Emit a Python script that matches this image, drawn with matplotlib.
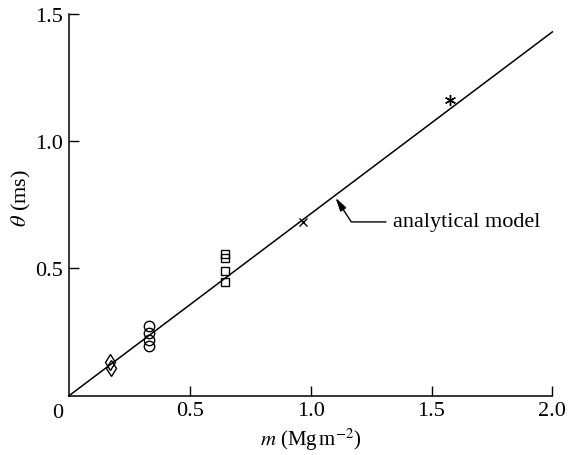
import matplotlib.pyplot as plt
import numpy as np

plt.rcParams['font.family'] = ['Liberation Serif', 'DejaVu Serif']
plt.rcParams['mathtext.fontset'] = 'stix'

# measured data, grouped by marker
diamond_m = [0.17, 0.175]
diamond_t = [0.131, 0.110]
circle_m = [0.33, 0.33, 0.33, 0.33]
circle_t = [0.275, 0.246, 0.219, 0.196]
square_m = [0.647, 0.647, 0.647, 0.647]
square_t = [0.557, 0.540, 0.491, 0.448]
cross_m = [0.968]
cross_t = [0.682]
star_m = [1.575]
star_t = [1.161]

# analytical model: theta = k * m
model_slope = 0.715
model_m = [0.0, 2.0]

fig = plt.figure(figsize=(5.68, 4.56), dpi=100)
ax = fig.add_axes([0.1215, 0.13, 0.851, 0.837])

model_t = [model_slope * v for v in model_m]
ax.plot(model_m, model_t, color='black', lw=1.1, clip_on=False)

ax.plot(diamond_m, diamond_t, 'd', ms=8, mfc='none', mec='black', mew=1.0)
ax.plot(circle_m, circle_t, 'o', ms=7.5, mfc='none', mec='black', mew=1.0)
ax.plot(square_m, square_t, 's', ms=6, mfc='none', mec='black', mew=1.0)
ax.plot(cross_m, cross_t, 'x', ms=5.5, color='black', mew=1.0)
ax.plot(star_m, star_t, marker=(6, 2, 0), ms=8, color='black', mew=1.0, ls='none')

ax.annotate('analytical model', xy=(1.103, 0.778), xytext=(1.34, 0.683),
            fontsize=16, va='center', ha='left',
            arrowprops=dict(arrowstyle='-|>,head_length=0.5,head_width=0.13',
                            color='black', lw=1.0, shrinkA=3, shrinkB=0,
                            connectionstyle='angle,angleA=0,angleB=-57,rad=0'))

ax.set_xlim(0, 2.0)
ax.set_ylim(0, 1.5)
ax.set_xticks([0.5, 1.0, 1.5, 2.0])
ax.set_xticklabels(['0.5', '1.0', '1.5', '2.0'])
ax.set_yticks([0.5, 1.0, 1.5])
ax.set_yticklabels(['0.5', '1.0', '1.5'])
ax.tick_params(direction='in', length=7, width=1.0, labelsize=16, pad=4)
ax.text(-0.045, -0.03, '0', fontsize=16, ha='center', va='top')

for s in ['top', 'right']:
    ax.spines[s].set_visible(False)
for s in ['left', 'bottom']:
    ax.spines[s].set_linewidth(1.1)

ax.set_xlabel(r'$m$ (Mg$\,$m$^{-2}$)', fontsize=15, labelpad=4)
ax.set_ylabel(r'$\theta$ (ms)', fontsize=16)
ax.yaxis.set_label_coords(-0.075, 0.52)

fig.savefig('out.png', dpi=100)
